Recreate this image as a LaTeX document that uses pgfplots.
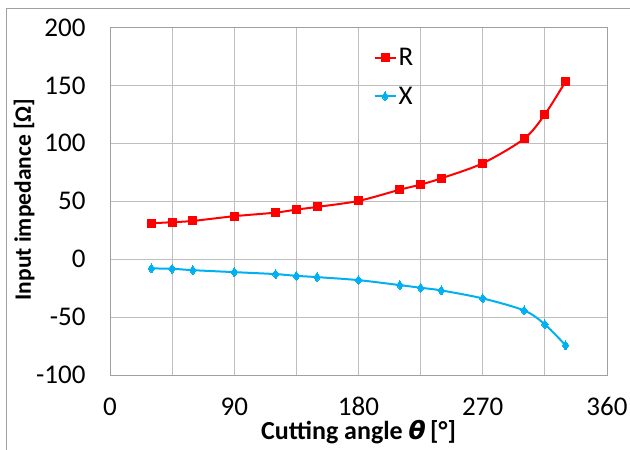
\documentclass[border=0pt]{standalone}
\usepackage{fontspec}
\setmainfont{Carlito}
\newfontfamily\thetafont{DejaVu Sans}
\usepackage{pgfplots}
\pgfplotsset{compat=1.18}
\definecolor{rred}{RGB}{255,0,0}
\definecolor{xblue}{RGB}{0,176,240}
\definecolor{gridc}{RGB}{190,190,190}
\definecolor{framec}{RGB}{160,160,160}
\begin{document}
\begin{tikzpicture}
\useasboundingbox (0pt,0pt) rectangle (630pt,450pt);
\draw[framec, line width=0.8pt] (6pt,0pt) -- (6pt,442pt) -- (640pt,442pt);
\begin{axis}[
  at={(110pt,75pt)}, anchor=south west,
  scale only axis, width=497pt, height=347.5pt,
  xmin=0, xmax=360, ymin=-100, ymax=200,
  xtick={0,90,180,270,360},
  minor xtick={45,135,225,315},
  ytick={-100,-50,0,50,100,150,200},
  xmajorgrids, xminorgrids, ymajorgrids,
  grid style={gridc, line width=0.8pt},
  minor grid style={gridc, line width=0.8pt},
  axis line style={framec, line width=0.8pt},
  major tick length=0pt, minor tick length=0pt,
  /pgf/number format/assume math mode=true,
  ticklabel style={font=\fontsize{27}{32}\selectfont},
  xticklabel style={yshift=-19pt},
  yticklabel style={xshift=-21pt},
  xlabel={\bfseries Cutting angle {\thetafont\fontsize{25}{28}\selectfont\bfseries\itshape θ}\,[°]},
  ylabel={\textbf{Input impedance [Ω]}},
  xlabel style={at={(axis description cs:0.5,0)}, anchor=north, yshift=-42pt, font=\fontsize{26}{28}\selectfont},
  ylabel style={at={(axis description cs:0,0.505)}, anchor=south, yshift=72pt, font=\fontsize{23.5}{28}\selectfont},
  legend style={draw=none, fill=none, at={(0.53,0.947)}, anchor=north west,
    font=\fontsize{27}{32}\selectfont, row sep=16pt, inner sep=0pt},
  legend cell align=left,
  legend image code/.code={\draw[mark repeat=2,mark phase=2,#1] plot coordinates {(0pt,0pt) (10.5pt,0pt) (21pt,0pt)};},
]
\addplot[rred, line width=2pt, smooth, tension=0.5, mark=square*, mark size=4pt, mark options={solid, fill=rred, line width=0pt}]
coordinates {(30,31) (45,31.9) (60,33) (90,37.1) (120,40.2) (135,42.8) (150,45.1) (180,50.3) (210,60) (225,64.4) (240,69.8) (270,82.8) (300,104) (315,125) (330,153.4)};
\addlegendentry{R}
\addplot[xblue, line width=2pt, smooth, tension=0.5, mark=diamond*, mark size=4.5pt, mark options={solid, fill=xblue, line width=0pt}]
coordinates {(30,-8) (45,-8.3) (60,-9.5) (90,-11.2) (120,-12.9) (135,-14.4) (150,-15.5) (180,-18.1) (210,-22.4) (225,-24.7) (240,-27) (270,-33.9) (300,-44.3) (315,-56.3) (330,-74.4)};
\addlegendentry{X}
\end{axis}
\end{tikzpicture}
\end{document}
